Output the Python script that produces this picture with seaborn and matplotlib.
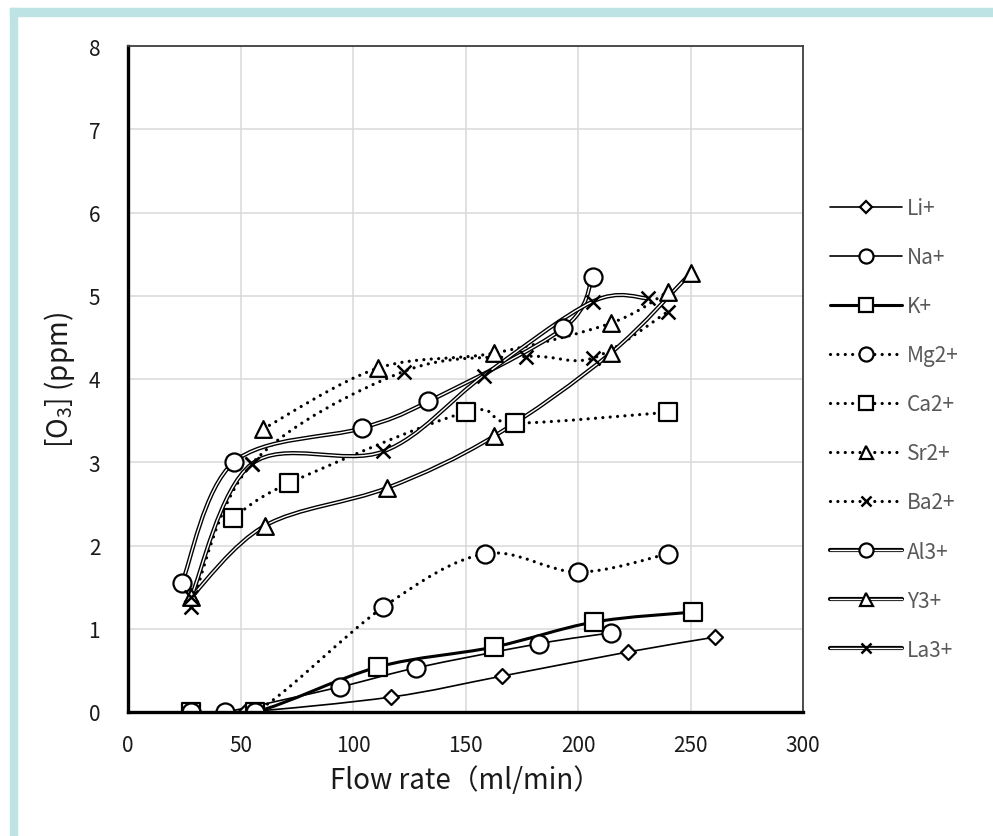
import numpy as np
import matplotlib
matplotlib.use("Agg")
import matplotlib.pyplot as plt
import seaborn as sns
from matplotlib.path import Path
from matplotlib.patches import PathPatch, Rectangle
from matplotlib.lines import Line2D
import matplotlib.patheffects as pe
from matplotlib.legend_handler import HandlerTuple

# ---------------- data ----------------
labels = ["Li+", "Na+", "K+", "Mg2+", "Ca2+", "Sr2+", "Ba2+", "Al3+", "Y3+", "La3+"]

li_x = [28, 52, 117, 166, 222, 261]
li_y = [0, 0, 0.18, 0.43, 0.72, 0.90]
na_x = [28, 43, 94, 128, 182.5, 214.5]
na_y = [0, 0, 0.30, 0.53, 0.82, 0.95]
k_x = [28, 56.5, 111, 162.5, 207, 251]
k_y = [0, 0, 0.54, 0.78, 1.08, 1.20]
mg_x = [28, 56.5, 113.5, 158.5, 200, 240]
mg_y = [0, 0, 1.26, 1.90, 1.68, 1.90]
ca_x = [46.7, 71.6, 150, 172, 240]
ca_y = [2.33, 2.75, 3.60, 3.47, 3.60]
sr_x = [60, 111, 162.5, 214.5, 240]
sr_y = [3.40, 4.13, 4.31, 4.67, 5.05]
ba_x = [28, 55, 122.5, 176.7, 206.5, 240]
ba_y = [1.26, 2.98, 4.09, 4.27, 4.25, 4.81]
al_x = [24, 47, 104, 133.5, 193.5, 206.5]
al_y = [1.55, 3.00, 3.41, 3.73, 4.61, 5.23]
y3_x = [28, 61, 115, 162.5, 214.5, 250]
y3_y = [1.38, 2.24, 2.69, 3.31, 4.31, 5.27]
la_x = [28, 55, 113.5, 158, 206.5, 231]
la_y = [1.38, 2.98, 3.13, 4.04, 4.93, 4.97]

xs_all = [li_x, na_x, k_x, mg_x, ca_x, sr_x, ba_x, al_x, y3_x, la_x]
ys_all = [li_y, na_y, k_y, mg_y, ca_y, sr_y, ba_y, al_y, y3_y, la_y]

x_ticks = [0, 50, 100, 150, 200, 250, 300]
y_ticks = [0, 1, 2, 3, 4, 5, 6, 7, 8]

# ---------------- styles ----------------
markers = ["D", "o", "s", "o", "s", "^", "x", "o", "^", "x"]
msizes = [7.6, 13, 13, 13, 12.5, 12, 10, 13, 12, 10]
kinds = ["thin", "thin", "thick", "dot", "dot", "dot", "dot", "double", "double", "double"]

DOT = (0, (0.01, 2.3))
double_fx = [pe.Stroke(linewidth=3.0, foreground="black"), pe.Normal()]


def smooth_path(xs, ys):
    P = np.column_stack([xs, ys]).astype(float)
    n = len(P)
    verts = [P[0]]
    codes = [Path.MOVETO]
    for i in range(n - 1):
        p0 = P[i - 1] if i > 0 else P[i]
        p1 = P[i]
        p2 = P[i + 1]
        p3 = P[i + 2] if i + 2 < n else P[i + 1]
        verts += [p1 + (p2 - p0) / 6.0, p2 - (p3 - p1) / 6.0, p2]
        codes += [Path.CURVE4] * 3
    return Path(verts, codes)


def line_kwargs(kind):
    if kind == "thin":
        return dict(edgecolor="black", linewidth=1.2)
    if kind == "thick":
        return dict(edgecolor="black", linewidth=2.2)
    if kind == "dot":
        return dict(edgecolor="black", linewidth=2.3, linestyle=DOT, capstyle="round")
    return dict(edgecolor="white", linewidth=1.0, path_effects=double_fx)


sns.set_theme(style="white")
plt.rcParams["font.family"] = ["Noto Sans CJK JP", "DejaVu Sans"]
plt.rcParams["mathtext.fontset"] = "custom"
plt.rcParams["mathtext.rm"] = "Noto Sans CJK JP"
plt.rcParams["mathtext.it"] = "Noto Sans CJK JP"

W, H = 993, 837
fig = plt.figure(figsize=(W / 100, H / 100), dpi=100)
fig.patch.set_facecolor("white")

# light teal frame strips (top and left)
teal = "#BEE3E5"
fig.patches.append(Rectangle((10 / W, 1 - 17 / H), 1 - 10 / W, 8 / H,
                             transform=fig.transFigure, color=teal, zorder=0))
fig.patches.append(Rectangle((10 / W, 0), 7 / W, 1 - 9 / H,
                             transform=fig.transFigure, color=teal, zorder=0))

ax = fig.add_axes([128 / W, 1 - 713 / H, (803 - 128) / W, (713 - 47) / H])
ax.set_facecolor("white")

for xs, ys, kind in zip(xs_all, ys_all, kinds):
    patch = PathPatch(smooth_path(xs, ys), facecolor="none", zorder=2, **line_kwargs(kind))
    ax.add_patch(patch)

for xs, ys, m, ms in zip(xs_all, ys_all, markers, msizes):
    if m == "x":
        sns.scatterplot(x=xs, y=ys, marker="x", s=ms ** 2, color="black",
                        linewidth=1.8, ax=ax, zorder=3, legend=False)
    else:
        sns.scatterplot(x=xs, y=ys, marker=m, s=ms ** 2, facecolor="white",
                        edgecolor="black", linewidth=1.6, ax=ax, zorder=3, legend=False)

ax.set_xlim(0, 300)
ax.set_ylim(0, 8)
ax.set_xticks(x_ticks)
ax.set_yticks(y_ticks)
ax.set_xticklabels([str(t) for t in x_ticks])
ax.set_yticklabels([str(t) for t in y_ticks])
ax.grid(True, color="#D9D9D9", linewidth=1.1)
ax.set_axisbelow(True)
ax.tick_params(axis="both", length=0, labelsize=15, colors="#1a1a1a")
ax.tick_params(axis="x", pad=16)
ax.tick_params(axis="y", pad=20)

for side in ["left", "bottom"]:
    ax.spines[side].set_linewidth(2.4)
    ax.spines[side].set_color("black")
for side in ["top", "right"]:
    ax.spines[side].set_linewidth(1.3)
    ax.spines[side].set_color("#404040")
for sp in ax.spines.values():
    sp.set_zorder(4)

ax.set_xlabel("Flow rate（ml/min）", fontsize=20, color="#1a1a1a", labelpad=6)
ax.set_ylabel("[O$_3$] (ppm)", fontsize=20, color="#1a1a1a", labelpad=8)

# legend
handles = []
for kind, m, ms in zip(kinds, markers, msizes):
    if kind == "double":
        ln = Line2D([], [], color="white", linewidth=1.0, path_effects=double_fx)
    elif kind == "dot":
        ln = Line2D([], [], color="black", linewidth=2.3, linestyle=DOT,
                    dash_capstyle="round")
    elif kind == "thick":
        ln = Line2D([], [], color="black", linewidth=2.2)
    else:
        ln = Line2D([], [], color="black", linewidth=1.2)
    if m == "x":
        mk = Line2D([], [], linestyle="none", marker="x", markersize=ms * 0.78,
                    color="black", markeredgewidth=1.8)
    else:
        mk = Line2D([], [], linestyle="none", marker=m, markersize=ms * 0.78,
                    markerfacecolor="white", markeredgecolor="black", markeredgewidth=1.6)
    handles.append((ln, mk))

fig.legend(handles, labels, handler_map={tuple: HandlerTuple(ndivide=1)},
           loc="upper left", bbox_to_anchor=(830 / W, 1 - 198 / H),
           frameon=False, fontsize=15, handlelength=3.45, labelspacing=1.30,
           handletextpad=0.25, borderaxespad=0, borderpad=0, labelcolor="#595959")

fig.savefig("out.png", dpi=100, facecolor="white")
